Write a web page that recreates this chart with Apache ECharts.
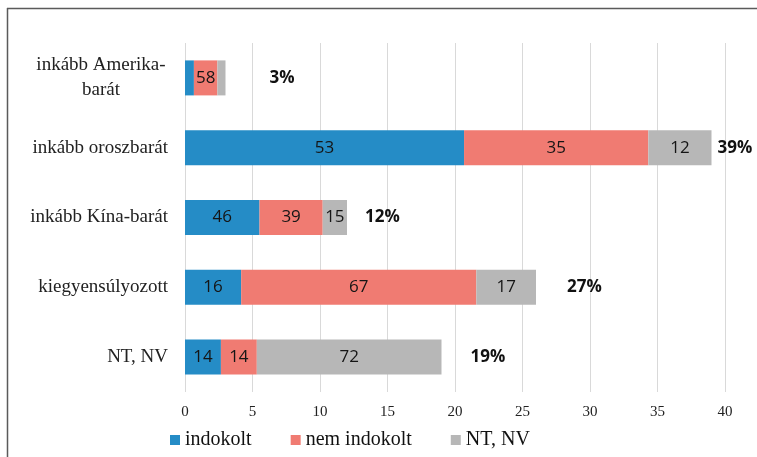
<!DOCTYPE html>
<html>
<head>
<meta charset="utf-8">
<script src="https://cdn.jsdelivr.net/npm/echarts@6/dist/echarts.min.js"></script>
<style>
html,body{margin:0;padding:0;background:#fff;}
#c{width:757px;height:457px;}
</style>
</head>
<body>
<div id="c"></div>
<script>
// ---- data ----
const categories = ['inkább Amerika-barát', 'inkább oroszbarát', 'inkább Kína-barát', 'kiegyensúlyozott', 'NT, NV'];
const totalLabels = [3, 39, 12, 27, 19];        // printed share of group (%)
const barLengths = [3, 39, 12, 26, 19];         // bar length as drawn on the axis
const indokolt = [22, 53, 46, 16, 14];          // % within group
const nemIndokolt = [58, 35, 39, 67, 14];
const ntnv = [20, 12, 15, 17, 72];
const seriesNames = ['indokolt', 'nem indokolt', 'NT, NV'];
const xTicks = [0, 5, 10, 15, 20, 25, 30, 35, 40];

// ---- style ----
const colors = ['#258cc6', '#f07b72', '#b7b7b7'];
const totalLabelGap = [44, 6, 18, 31, 29];
const hiddenLabels = { 0: [0], 2: [0] }; // series index -> category indices without label

function seg(shares, si) {
  return shares.map((s, i) => {
    const item = { value: barLengths[i] * s / 100, share: s };
    if (hiddenLabels[si] && hiddenLabels[si].includes(i)) item.label = { show: false };
    return item;
  });
}

const shareSets = [indokolt, nemIndokolt, ntnv];
const series = shareSets.map((sh, si) => ({
  name: seriesNames[si],
  type: 'bar',
  stack: 'all',
  barWidth: 35,
  itemStyle: { color: colors[si] },
  label: {
    show: true,
    position: 'inside',
    formatter: p => p.data.share,
    fontFamily: 'Open Sans',
    fontSize: 17,
    color: '#151515'
  },
  emphasis: { disabled: true },
  data: seg(sh, si)
}));

series.push({
  type: 'bar',
  stack: 'all',
  barWidth: 35,
  silent: true,
  itemStyle: { color: 'transparent' },
  data: totalLabels.map((t, i) => ({
    value: 0,
    label: {
      show: true,
      position: 'right',
      distance: totalLabelGap[i],
      formatter: t + '%',
      fontFamily: 'Open Sans',
      fontWeight: 'bold',
      fontSize: 17,
      color: '#111'
    }
  }))
});

const chart = echarts.init(document.getElementById('c'));
chart.setOption({
  animation: false,
  backgroundColor: '#fff',
  grid: { left: 185, right: 32, top: 43, bottom: 65, containLabel: false },
  legend: {
    data: seriesNames,
    left: 165,
    top: 425,
    icon: 'rect',
    itemWidth: 10,
    itemHeight: 10,
    itemGap: 39,
    textStyle: { fontFamily: 'Liberation Serif', fontSize: 20, color: '#111' }
  },
  xAxis: {
    type: 'value',
    min: xTicks[0],
    max: xTicks[xTicks.length - 1],
    interval: 5,
    axisLine: { show: false },
    axisTick: { show: false },
    splitLine: { lineStyle: { color: '#d9d9d9', width: 1 } },
    axisLabel: { fontFamily: 'Liberation Serif', fontSize: 15, color: '#222', margin: 13 }
  },
  yAxis: {
    type: 'category',
    inverse: true,
    data: categories,
    axisLine: { show: false },
    axisTick: { show: false },
    axisLabel: {
      margin: 17,
      fontFamily: 'Liberation Serif',
      fontSize: 19,
      color: '#222',
      formatter: v => {
        if (v === 'inkább Amerika-barát') return '{c|inkább Amerika-}\n{c|barát}';
        return v;
      },
      rich: {
        c: { width: 134, align: 'center', fontFamily: 'Liberation Serif', fontSize: 19, color: '#222', lineHeight: 25 }
      }
    }
  },
  graphic: [
    { type: 'line', shape: { x1: 7, y1: 8.5, x2: 757, y2: 8.5 }, style: { stroke: '#5a5a5a', lineWidth: 1.5 } },
    { type: 'line', shape: { x1: 7.5, y1: 8, x2: 7.5, y2: 457 }, style: { stroke: '#5a5a5a', lineWidth: 1.5 } }
  ],
  series: series
});
</script>
</body>
</html>
